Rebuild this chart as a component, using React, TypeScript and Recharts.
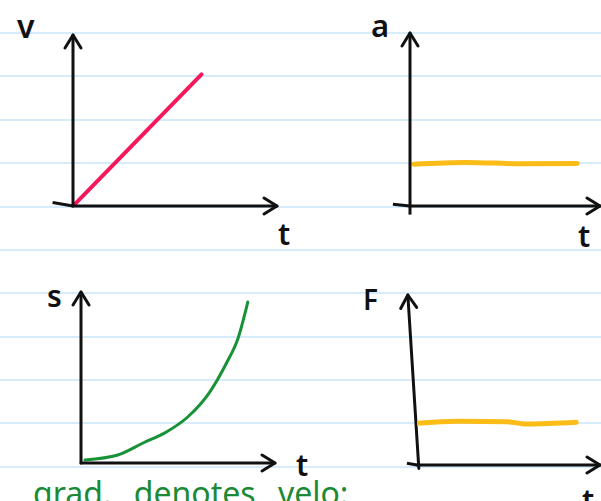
import { LineChart, Line, XAxis, YAxis, CartesianGrid, ReferenceLine } from "recharts";

const W = 601;
const H = 501;
const INK = "#111";

// notebook ruling, page y in px
const RULES = [33, 76, 120, 163, 207, 250, 293, 337, 380, 423, 467];

// v-t graph
const V_T = [0, 6.3];
const V_VAL = [0, 7.7];

// a-t graph
const A_T = [0.2, 3.0, 5.8, 8.8];
const A_VAL = [2.42, 2.52, 2.44, 2.45];

// s-t graph
const S_T = [0.2, 1.9, 3.2, 4.4, 5.5, 6.6, 7.5, 8.1, 8.6];
const S_VAL = [0.18, 0.47, 1.17, 1.81, 2.69, 4.09, 5.85, 7.31, 9.42];

// F-t graph
const F_T = [0, 2.2, 4.9, 6.0, 8.7];
const F_VAL = [2.45, 2.57, 2.55, 2.41, 2.51];

const LABELS = [
  { text: "v", x: 17, y: 38, size: 32 },
  { text: "t", x: 278, y: 245, size: 30 },
  { text: "a", x: 371, y: 37, size: 31 },
  { text: "t", x: 578, y: 247, size: 30 },
  { text: "s", x: 47, y: 307, size: 30 },
  { text: "t", x: 296, y: 476, size: 30 },
  { text: "F", x: 363, y: 310, size: 28 },
  { text: "t", x: 582, y: 511, size: 30 },
];

const NOTE = "grad. denotes velo:";

const toRows = (ts: number[], vals: number[]) => ts.map((t, i) => ({ t, y: vals[i] }));

// origin / arrow tips of each hand-drawn graph, in page px
type Frame = { left: number; top: number; right: number; bottom: number };

function Panel({
  id,
  frame,
  rows,
  color,
  width,
  curve,
  slant,
  children,
}: {
  id: string;
  frame: Frame;
  rows: { t: number; y: number }[];
  color: string;
  width: number;
  curve: "linear" | "monotone";
  slant?: number;
  children?: React.ReactNode;
}) {
  const axisStyle = { stroke: INK, strokeWidth: 3, strokeLinecap: "round" as const };
  // axes take 1px each (a zero-sized axis is not drawn)
  return (
    <div style={{ position: "absolute", left: 0, top: 0 }}>
      <LineChart
        width={W}
        height={H}
        data={rows}
        margin={{ top: frame.top, left: frame.left - 1, right: W - frame.right, bottom: H - frame.bottom - 1 }}
      >
        <defs>
          <marker
            id={id}
            markerUnits="userSpaceOnUse"
            markerWidth={24}
            markerHeight={24}
            refX={14}
            refY={9}
            orient="auto-start-reverse"
            overflow="visible"
          >
            <path d="M1,1 L14,9 L1,17" fill="none" stroke={INK} strokeWidth={3} strokeLinecap="round" strokeLinejoin="round" />
          </marker>
        </defs>
        <XAxis
          dataKey="t"
          type="number"
          domain={[0, 10]}
          allowDataOverflow
          height={1}
          tick={false}
          tickLine={false}
          axisLine={{ ...axisStyle, markerEnd: `url(#${id})` }}
        />
        <YAxis
          type="number"
          domain={[0, 10]}
          allowDataOverflow
          width={1}
          tick={false}
          tickLine={false}
          axisLine={slant === undefined ? { ...axisStyle, markerStart: `url(#${id})` } : false}
        />
        {slant !== undefined && (
          <ReferenceLine
            segment={[{ x: 0.1, y: -0.2 }, { x: slant, y: 10 }]}
            ifOverflow="visible"
            shape={(p: any) => (
              <line x1={p.x1} y1={p.y1} x2={p.x2} y2={p.y2} {...axisStyle} markerEnd={`url(#${id})`} />
            )}
          />
        )}
        {children}
        <Line
          dataKey="y"
          type={curve}
          stroke={color}
          strokeWidth={width}
          strokeLinecap="round"
          dot={false}
          isAnimationActive={false}
        />
      </LineChart>
    </div>
  );
}

export default function App() {
  return (
    <div style={{ position: "absolute", left: 0, top: 0, width: W, height: H, overflow: "hidden", background: "#fff" }}>
      <div style={{ position: "absolute", left: 0, top: 0 }}>
        <LineChart width={W} height={H} margin={{ top: 0, left: 0, right: 0, bottom: 0 }}>
          <XAxis hide type="number" domain={[0, 1]} />
          <YAxis hide type="number" domain={[0, 1]} />
          <CartesianGrid vertical={false} horizontalPoints={RULES} stroke="#d6ecfb" strokeWidth={2} />
          {LABELS.map((l, i) => (
            <text key={i} x={l.x} y={l.y} fontSize={l.size} fontFamily="Noto Sans" fontWeight={600} fill={INK}>
              {l.text}
            </text>
          ))}
          <text x={33} y={505} fontSize={32} fontFamily="Noto Sans" wordSpacing={14} fill="#1b8a36">
            {NOTE}
          </text>
        </LineChart>
      </div>

      <Panel id="arrV" frame={{ left: 73, top: 35, right: 277, bottom: 206 }} rows={toRows(V_T, V_VAL)} color="#f7185c" width={4} curve="linear">
        <ReferenceLine segment={[{ x: -1, y: 0.2 }, { x: 0, y: 0 }]} stroke={INK} strokeWidth={3} ifOverflow="visible" />
      </Panel>

      <Panel id="arrA" frame={{ left: 410, top: 33, right: 600, bottom: 206 }} rows={toRows(A_T, A_VAL)} color="#fbbc18" width={5} curve="monotone">
        <ReferenceLine segment={[{ x: -0.9, y: 0.1 }, { x: 0, y: 0 }]} stroke={INK} strokeWidth={3} ifOverflow="visible" />
        <ReferenceLine segment={[{ x: 0, y: 0 }, { x: 0, y: -0.5 }]} stroke={INK} strokeWidth={3} ifOverflow="visible" />
      </Panel>

      <Panel id="arrS" frame={{ left: 81, top: 292, right: 275, bottom: 463 }} rows={toRows(S_T, S_VAL)} color="#179237" width={3} curve="monotone" />

      <Panel id="arrF" frame={{ left: 417, top: 295, right: 600, bottom: 465 }} rows={toRows(F_T, F_VAL)} color="#fbbc18" width={5} curve="monotone" slant={-0.5}>
        <ReferenceLine segment={[{ x: -0.55, y: 0.1 }, { x: 0, y: 0 }]} stroke={INK} strokeWidth={3} ifOverflow="visible" />
      </Panel>
    </div>
  );
}
